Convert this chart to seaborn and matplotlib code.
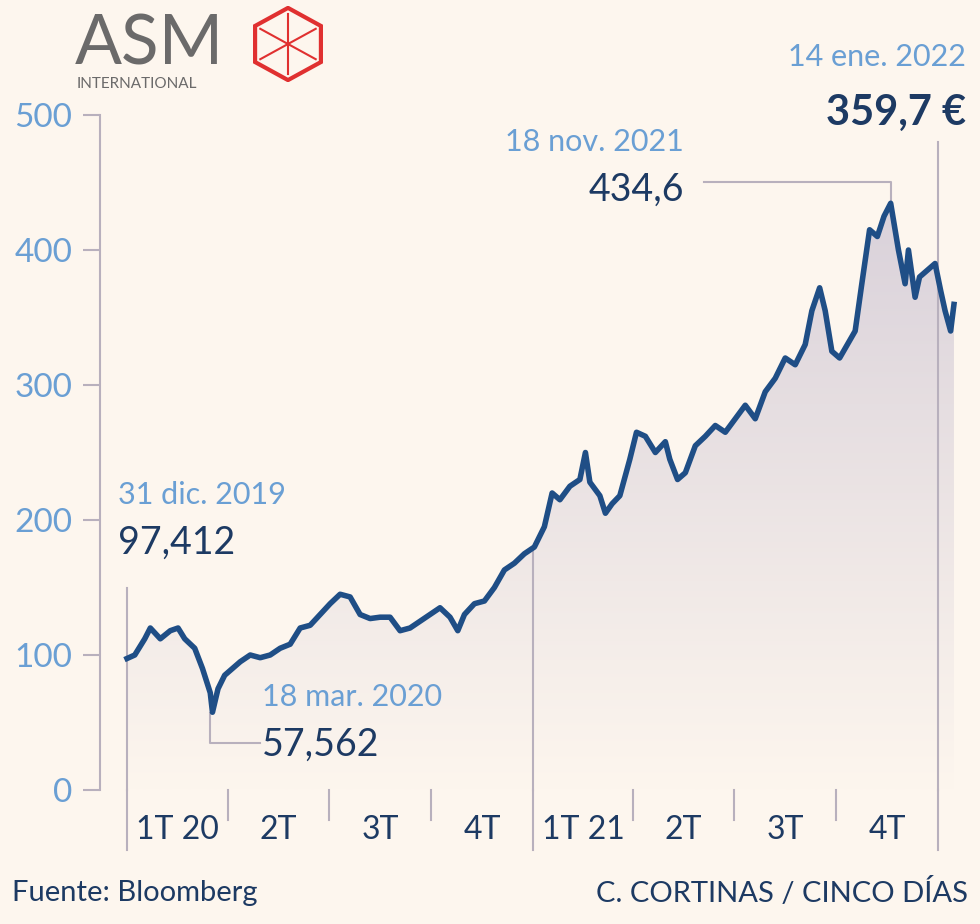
import numpy as np
import pandas as pd
import matplotlib
matplotlib.use("Agg")
import matplotlib.pyplot as plt
import seaborn as sns
from matplotlib.patches import RegularPolygon

# day offsets from 31 Dec 2019 and closing prices (EUR)
days = [0, 7, 16, 21, 30, 39, 46, 52, 61, 68, 75, 77, 82, 88, 95, 102, 111, 120, 129, 138, 147, 156,
        165, 174, 183, 192, 201, 210, 219, 228, 237, 246, 255, 264, 273, 282, 291, 298, 304, 313, 322,
        331, 340, 349, 358, 367, 376, 383, 390, 399, 408, 413, 417, 426, 431, 437, 444, 453, 459, 467,
        476, 485, 489, 496, 503, 512, 521, 530, 539, 548, 557, 566, 575, 584, 593, 602, 611, 617, 624,
        629, 635, 642, 649, 656, 662, 669, 676, 682, 688, 695, 701, 704, 710, 714, 721, 728, 733, 737,
        742, 745]
price = [97.4, 100, 112, 120, 112, 118, 120, 112, 105, 90, 72, 57.6, 75, 85, 90, 95, 100, 98, 100, 105,
         108, 120, 122, 130, 138, 145, 143, 130, 127, 128, 128, 118, 120, 125, 130, 135, 128, 118, 130,
         138, 140, 150, 163, 168, 175, 180, 195, 220, 215, 225, 230, 250, 228, 218, 205, 212, 218, 245,
         265, 262, 250, 258, 245, 230, 235, 255, 262, 270, 265, 275, 285, 275, 295, 305, 320, 315, 330,
         355, 372, 355, 325, 320, 330, 340, 375, 415, 410, 425, 434.6, 400, 375, 400, 365, 380, 385, 390,
         370, 355, 340, 359.7]
quarter_labels = ["1T 20", "2T", "3T", "4T", "1T 21", "2T", "3T", "4T"]
quarter_starts = [0, 91, 182, 274, 366, 456, 547, 639, 731]
y_ticks = [0, 100, 200, 300, 400, 500]

df = pd.DataFrame({"day": days, "price": price})
BG = "#fdf6ee"; LINE = "#1f4e86"; LIGHT = "#6a9fd4"; DARK = "#1d3a63"

fig = plt.figure(figsize=(9.8, 9.24), dpi=100, facecolor=BG)
ax = fig.add_axes([100/980, (924-790)/924, 860/980, 675/924], facecolor=BG)
ppd = 1.11
ax.set_xlim(-27/ppd, 833/ppd)
ax.set_ylim(0, 500)

# gradient fill under curve
grad = np.linspace(0, 1, 256).reshape(-1, 1)
from matplotlib.colors import LinearSegmentedColormap
cmap = LinearSegmentedColormap.from_list("g", [BG, "#d9d1da"])
im = ax.imshow(grad, extent=[0, 745, 0, 440], origin="lower", aspect="auto", cmap=cmap, zorder=1)
poly = ax.fill_between(df.day, df.price, 0, color="none")
im.set_clip_path(poly.get_paths()[0], transform=ax.transData)

sns.lineplot(data=df, x="day", y="price", ax=ax, color=LINE, lw=4, zorder=3)

for s in ["top", "right", "bottom"]:
    ax.spines[s].set_visible(False)
ax.spines["left"].set_color("#b8b0bd"); ax.spines["left"].set_linewidth(1.5)
ax.set_yticks(y_ticks)
ax.set_yticklabels([str(v) for v in y_ticks], fontsize=24, color=LIGHT, family="Lato")
ax.tick_params(axis="y", length=12, color="#b8b0bd", width=1.5, pad=8)
ax.set_xticks([]); ax.set_xlabel(""); ax.set_ylabel("")

k = 1/1.35  # px -> value
gcol = "#b8b0bd"
for i, d in enumerate(quarter_starts):
    lo = -30*k
    if i in (0, 4, 8):
        lo = -60*k
    ax.plot([d, d], [lo, 0], color=gcol, lw=1.5, clip_on=False)
for i, lab in enumerate(quarter_labels):
    c = (quarter_starts[i] + quarter_starts[i+1]) / 2
    ax.text(c, -40*k, lab, ha="center", va="center", fontsize=23, color=DARK, family="Lato")
# vertical guide lines
ax.plot([0, 0], [0, 150], color=gcol, lw=1.5, clip_on=False)
ax.plot([366, 366], [0, 180], color=gcol, lw=1.5, clip_on=False)
ax.plot([731, 731], [0, 480], color=gcol, lw=1.5, clip_on=False)
ax.plot([75, 75, 120], [57, 35, 35], color=gcol, lw=1.5)
ax.plot([520, 688, 688], [450, 450, 434], color=gcol, lw=1.5)

def txt(px, py, s, col, size, bold=False, ha="left"):
    fig.text(px/980, 1-py/924, s, color=col, fontsize=size, ha=ha, va="center",
             family="Lato", fontweight="bold" if bold else "normal")

txt(118, 495, "31 dic. 2019", LIGHT, 22)
txt(118, 543, "97,412", DARK, 27)
txt(262, 697, "18 mar. 2020", LIGHT, 22)
txt(262, 745, "57,562", DARK, 27)
txt(684, 142, "18 nov. 2021", LIGHT, 22, ha="right")
txt(684, 190, "434,6", DARK, 27, ha="right")
txt(966, 57, "14 ene. 2022", LIGHT, 22, ha="right")
txt(966, 113, "359,7 €", DARK, 30, bold=True, ha="right")
txt(12, 893, "Fuente: Bloomberg", DARK, 21)
txt(968, 893, "C. CORTINAS / CINCO DÍAS", DARK, 21, ha="right")
txt(75, 45, "ASM", "#6b6a6a", 50)
txt(77, 84, "INTERNATIONAL", "#6b6a6a", 11)
hx = fig.add_axes([248/980, 1-82/924, 80/980, 76/924]); hx.axis("off")
hx.set_xlim(-1, 1); hx.set_ylim(-1, 1)
hx.add_patch(RegularPolygon((0, 0), 6, radius=0.95, fill=False, ec="#e03030", lw=3))
for a in np.arange(6)*np.pi/3 + np.pi/6:
    hx.plot([0, 0.8*np.cos(a)], [0, 0.8*np.sin(a)], color="#e03030", lw=1.5)

fig.savefig("out.png", dpi=100, facecolor=BG)
